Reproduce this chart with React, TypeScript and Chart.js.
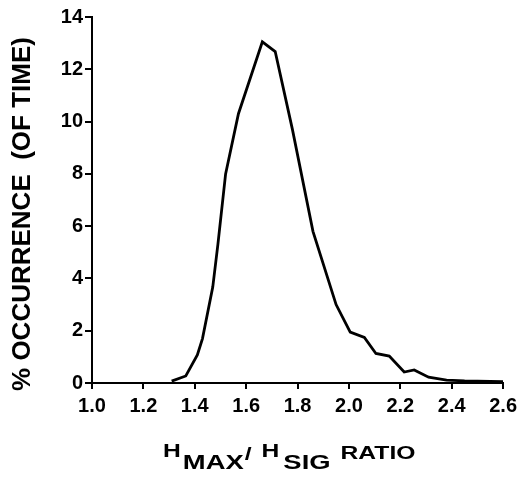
import React, { useEffect, useRef } from "react";
import { Chart, registerables } from "chart.js";

Chart.register(...registerables);

const ratioX: number[] = [1.31, 1.365, 1.41, 1.43, 1.47, 1.49, 1.52, 1.57, 1.663, 1.713, 1.78, 1.86, 1.95, 2.005, 2.06, 2.105, 2.157, 2.215, 2.254, 2.31, 2.38, 2.45, 2.6];
const occurrence: number[] = [0.07, 0.27, 1.07, 1.7, 3.67, 5.3, 8.0, 10.3, 13.05, 12.68, 9.7, 5.8, 3.0, 1.95, 1.74, 1.13, 1.03, 0.42, 0.5, 0.22, 0.11, 0.08, 0.05];

const yTitle = "% OCCURRENCE  (OF TIME)";
const xTitleParts: { text: string; sub: boolean }[] = [
  { text: "H", sub: false },
  { text: "MAX", sub: true },
  { text: "/", sub: false },
  { text: "H", sub: false },
  { text: "SIG", sub: true },
  { text: "RATIO", sub: false },
];

const FONT = "'Liberation Sans', Arial, Helvetica, sans-serif";

const titlePlugin = {
  id: "titles",
  afterDraw(chart: any) {
    const ctx = chart.ctx as CanvasRenderingContext2D;
    ctx.save();
    ctx.fillStyle = "#000";
    // y title
    ctx.save();
    ctx.translate(23, 214);
    ctx.rotate(-Math.PI / 2);
    ctx.textAlign = "center";
    ctx.textBaseline = "middle";
    ctx.font = `bold 26px ${FONT}`;
    ctx.fillText(yTitle, 0, 0);
    ctx.restore();
    // x title
    const sx = 1.37;
    const gaps = [2, 1, 10, 4, 10, 0];
    let x = 163;
    ctx.textAlign = "left";
    ctx.textBaseline = "alphabetic";
    xTitleParts.forEach((p, i) => {
      const size = p.sub ? 20 : 18;
      const base = p.sub ? 469 : p.text === "/" ? 460 : p.text === "RATIO" ? 459 : 457;
      ctx.font = `bold ${size}px ${FONT}`;
      const w = ctx.measureText(p.text).width * sx;
      ctx.save();
      ctx.translate(x, base);
      ctx.scale(sx, 1);
      ctx.fillText(p.text, 0, 0);
      ctx.restore();
      x += w + gaps[i];
    });
    ctx.restore();
  },
};

export default function App() {
  const ref = useRef<HTMLCanvasElement | null>(null);
  useEffect(() => {
    if (!ref.current) return;
    const chart = new Chart(ref.current, {
      type: "line",
      data: {
        datasets: [
          {
            data: ratioX.map((x, i) => ({ x, y: occurrence[i] })),
            borderColor: "#000",
            borderWidth: 2.8,
            pointRadius: 0,
            tension: 0,
            fill: false,
          },
        ],
      },
      options: {
        responsive: false,
        animation: false,
        layout: { padding: { top: 17, right: 18, left: 0, bottom: 0 } },
        plugins: { legend: { display: false }, tooltip: { enabled: false } },
        scales: {
          x: {
            type: "linear",
            min: 1.0,
            max: 2.6,
            afterFit: (s: any) => {
              s.height = 103;
            },
            ticks: {
              stepSize: 0.2,
              color: "#000",
              padding: 5,
              maxRotation: 0,
              autoSkip: false,
              font: { family: FONT, size: 20, weight: "bold" },
              callback: (v: any) => Number(v).toFixed(1),
            },
            grid: { drawOnChartArea: false, drawTicks: true, tickLength: 6, color: "#000", lineWidth: 2 },
            border: { display: true, color: "#000", width: 2 },
          },
          y: {
            min: 0,
            max: 14,
            afterFit: (s: any) => {
              s.width = 92;
            },
            ticks: {
              stepSize: 2,
              color: "#000",
              padding: 2,
              font: { family: FONT, size: 20, weight: "bold" },
            },
            grid: { drawOnChartArea: false, drawTicks: true, tickLength: 7, color: "#000", lineWidth: 2 },
            border: { display: true, color: "#000", width: 2 },
          },
        },
      },
      plugins: [titlePlugin],
    });
    return () => chart.destroy();
  }, []);
  return (
    <div style={{ position: "fixed", left: 0, top: 0, width: 522, height: 486, background: "#fff" }}>
      <canvas ref={ref} width={522} height={486} style={{ width: 522, height: 486 }} />
    </div>
  );
}
